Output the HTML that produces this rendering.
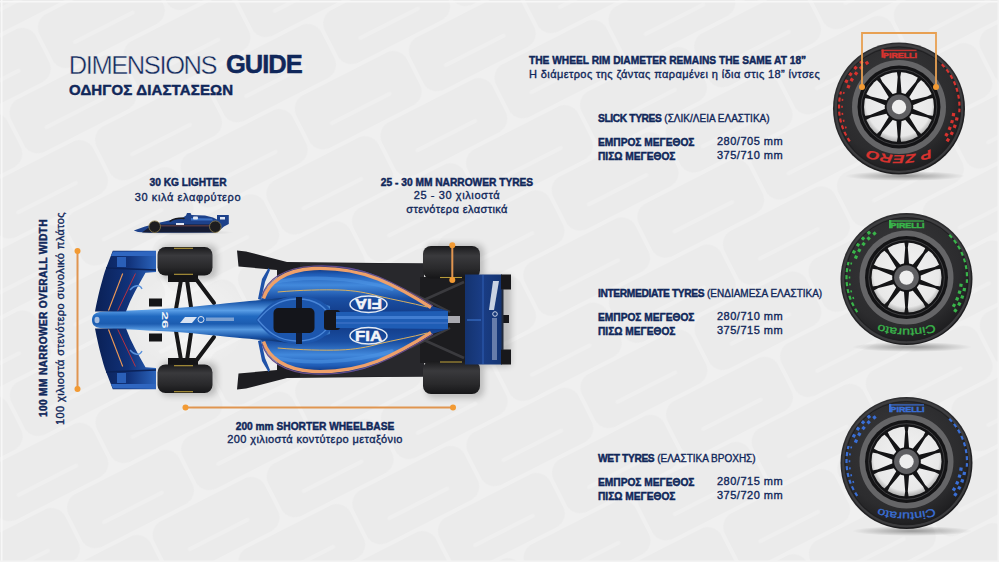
<!DOCTYPE html>
<html><head><meta charset="utf-8">
<style>
html,body{margin:0;padding:0;}
body{width:999px;height:562px;overflow:hidden;position:relative;background:#eaeaea;font-family:"Liberation Sans",sans-serif;color:#10275a;}
.t{position:absolute;white-space:nowrap;line-height:1;}
.b{font-weight:bold;-webkit-text-stroke:0.45px #10275a;}
.r{-webkit-text-stroke:0.35px #10275a;}
.c{text-align:center;}
#bg{position:absolute;left:0;top:0;}
</style></head><body>
<svg id="bg" width="999" height="562" viewBox="0 0 999 562">
  <defs>
    <pattern id="tiles" width="128" height="126" patternUnits="userSpaceOnUse" patternTransform="translate(30,20) rotate(-27)">
      <rect x="2" y="2" width="124" height="59" rx="15" fill="#ebebeb"/>
      <rect x="-62" y="65" width="124" height="59" rx="15" fill="#ebebeb"/>
      <rect x="66" y="65" width="124" height="59" rx="15" fill="#ebebeb"/>
      <line x1="30" y1="40" x2="95" y2="40" stroke="#efefef" stroke-width="4" stroke-linecap="round"/>
      <line x1="94" y1="103" x2="159" y2="103" stroke="#efefef" stroke-width="4" stroke-linecap="round"/>
      <line x1="-34" y1="103" x2="31" y2="103" stroke="#efefef" stroke-width="4" stroke-linecap="round"/>
    </pattern>
  </defs>
  <rect x="0" y="0" width="999" height="562" fill="#f0f0f0"/>
  <rect x="0" y="0" width="999" height="562" fill="url(#tiles)"/>
  <rect x="0" y="1" width="999" height="1.5" fill="#f7f7f7"/>
  <rect x="1" y="0" width="1.5" height="562" fill="#f7f7f7"/>
  <rect x="997.5" y="0" width="1.5" height="562" fill="#f3f3f3"/>
  <rect x="0" y="560.5" width="999" height="1.5" fill="#f3f3f3"/>
</svg>

<!-- Title -->
<div class="t" id="dim" style="left:68.7px;top:53px;font-size:25.5px;letter-spacing:-1.4px;-webkit-text-stroke:0.45px #ebebeb;">DIMENSIONS</div>
<div class="t b" id="guide" style="left:226px;top:52px;font-size:25.5px;letter-spacing:-1px;">GUIDE</div>
<div class="t b" id="odig" style="left:69px;top:82px;font-size:15px;letter-spacing:0.15px;">ΟΔΗΓΟΣ ΔΙΑΣΤΑΣΕΩΝ</div>

<!-- Rim text -->
<div class="t b" id="rim1" style="left:529px;top:56px;font-size:10.2px;">THE WHEEL RIM DIAMETER REMAINS THE SAME AT 18”</div>
<div class="t r" id="rim2" style="left:529px;top:69px;font-size:11px;letter-spacing:0.4px;">Η διάμετρος της ζάντας παραμένει η ίδια στις 18” ίντσες</div>

<!-- Slick -->
<div class="t r" id="sl1" style="left:598px;top:114px;font-size:10.2px;"><span class="b" style="font-size:10.2px;letter-spacing:-0.35px;">SLICK TYRES</span> <span style="font-size:10px;">(ΣΛΙΚ/ΛΕΙΑ ΕΛΑΣΤΙΚΑ)</span></div>
<div class="t b" id="sl2" style="left:598px;top:138px;font-size:10.2px;">ΕΜΠΡΟΣ ΜΕΓΕΘΟΣ</div>
<div class="t r" id="sl3" style="left:717px;top:136px;font-size:11px;letter-spacing:0.5px;">280/705 mm</div>
<div class="t b" id="sl4" style="left:598px;top:152px;font-size:10.2px;">ΠΙΣΩ ΜΕΓΕΘΟΣ</div>
<div class="t r" id="sl5" style="left:717px;top:150px;font-size:11px;letter-spacing:0.5px;">375/710 mm</div>

<!-- Intermediate -->
<div class="t r" id="in1" style="left:598px;top:289px;font-size:10.2px;"><span class="b" style="font-size:10.2px;letter-spacing:-0.35px;">INTERMEDIATE TYRES</span> <span style="font-size:10px;">(ΕΝΔΙΑΜΕΣΑ ΕΛΑΣΤΙΚΑ)</span></div>
<div class="t b" id="in2" style="left:598px;top:313px;font-size:10.2px;">ΕΜΠΡΟΣ ΜΕΓΕΘΟΣ</div>
<div class="t r" id="in3" style="left:717px;top:311px;font-size:11px;letter-spacing:0.5px;">280/710 mm</div>
<div class="t b" id="in4" style="left:598px;top:327px;font-size:10.2px;">ΠΙΣΩ ΜΕΓΕΘΟΣ</div>
<div class="t r" id="in5" style="left:717px;top:325px;font-size:11px;letter-spacing:0.5px;">375/715 mm</div>

<!-- Wet -->
<div class="t r" id="we1" style="left:598px;top:454px;font-size:10.2px;"><span class="b" style="font-size:10.2px;letter-spacing:-0.35px;">WET TYRES</span> <span style="font-size:10px;">(ΕΛΑΣΤΙΚΑ ΒΡΟΧΗΣ)</span></div>
<div class="t b" id="we2" style="left:598px;top:478px;font-size:10.2px;">ΕΜΠΡΟΣ ΜΕΓΕΘΟΣ</div>
<div class="t r" id="we3" style="left:717px;top:476px;font-size:11px;letter-spacing:0.5px;">280/715 mm</div>
<div class="t b" id="we4" style="left:598px;top:492px;font-size:10.2px;">ΠΙΣΩ ΜΕΓΕΘΟΣ</div>
<div class="t r" id="we5" style="left:717px;top:490px;font-size:11px;letter-spacing:0.5px;">375/720 mm</div>

<!-- Car labels -->
<div class="t b c" id="kg1" style="left:88px;width:200px;top:178px;font-size:10.2px;">30 KG LIGHTER</div>
<div class="t r c" id="kg2" style="left:88px;width:200px;top:191.5px;font-size:11px;letter-spacing:0.6px;">30 κιλά ελαφρύτερο</div>

<div class="t b c" id="nt1" style="left:357px;width:200px;top:178px;font-size:10.2px;">25 - 30 MM NARROWER TYRES</div>
<div class="t r c" id="nt2" style="left:357px;width:200px;top:190px;font-size:11px;letter-spacing:0.6px;">25 - 30 χιλιοστά</div>
<div class="t r c" id="nt3" style="left:357px;width:200px;top:204px;font-size:11px;letter-spacing:0.4px;">στενότερα ελαστικά</div>

<div class="t b c" id="wb1" style="left:215px;width:200px;top:422px;font-size:10.2px;">200 mm SHORTER WHEELBASE</div>
<div class="t r c" id="wb2" style="left:215px;width:200px;top:434px;font-size:11px;letter-spacing:0.4px;">200 χιλιοστά κοντύτερο μεταξόνιο</div>

<!-- vertical labels -->
<div class="t b c" id="vw1" style="left:-106.5px;width:300px;top:313px;font-size:10.2px;letter-spacing:0.33px;transform:rotate(-90deg);">100 MM NARROWER OVERALL WIDTH</div>
<div class="t r c" id="vw2" style="left:-90px;width:300px;top:313px;font-size:11px;letter-spacing:0.4px;transform:rotate(-90deg);">100 χιλιοστά στενότερο συνολικό πλάτος</div>

<!-- CAR -->
<svg id="car" style="position:absolute;left:0;top:0" width="999" height="562" viewBox="0 0 999 562">
  <defs>
    <linearGradient id="podG" x1="0" y1="0" x2="0" y2="1">
      <stop offset="0" stop-color="#0b2462"/>
      <stop offset="0.08" stop-color="#1f5cb6"/>
      <stop offset="0.18" stop-color="#4289dc"/>
      <stop offset="0.3" stop-color="#1a4fa3"/>
      <stop offset="0.5" stop-color="#10357f"/>
      <stop offset="0.7" stop-color="#1a4fa3"/>
      <stop offset="0.82" stop-color="#4289dc"/>
      <stop offset="0.92" stop-color="#1f5cb6"/>
      <stop offset="1" stop-color="#0b2462"/>
    </linearGradient>
    <linearGradient id="noseG" x1="0" y1="0" x2="0" y2="1">
      <stop offset="0" stop-color="#0a2152"/>
      <stop offset="0.12" stop-color="#1a55a8"/>
      <stop offset="0.3" stop-color="#5a9ee6"/>
      <stop offset="0.42" stop-color="#2169c0"/>
      <stop offset="0.58" stop-color="#1c5cb0"/>
      <stop offset="0.7" stop-color="#5598e0"/>
      <stop offset="0.85" stop-color="#1a55a8"/>
      <stop offset="1" stop-color="#0a2152"/>
    </linearGradient>
    <linearGradient id="ftyre" x1="0" y1="0" x2="0" y2="1">
      <stop offset="0" stop-color="#1a1a1c"/>
      <stop offset="0.3" stop-color="#3a3a3d"/>
      <stop offset="0.7" stop-color="#29292b"/>
      <stop offset="1" stop-color="#161618"/>
    </linearGradient>
    <linearGradient id="rwing" x1="0" y1="0" x2="1" y2="0">
      <stop offset="0" stop-color="#14336f"/>
      <stop offset="0.45" stop-color="#1a3d85"/>
      <stop offset="1" stop-color="#143472"/>
    </linearGradient>
    <linearGradient id="wingG" x1="0" y1="0" x2="1" y2="0">
      <stop offset="0" stop-color="#0a2055"/>
      <stop offset="0.55" stop-color="#11327a"/>
      <stop offset="1" stop-color="#2a63bb"/>
    </linearGradient>
    <radialGradient id="carShadow" cx="0.5" cy="0.5" r="0.5">
      <stop offset="0" stop-color="#000" stop-opacity="0.18"/>
      <stop offset="1" stop-color="#000" stop-opacity="0"/>
    </radialGradient>
    <radialGradient id="underG" cx="0.5" cy="0.5" r="0.5">
      <stop offset="0" stop-color="#fff" stop-opacity="0.5"/>
      <stop offset="1" stop-color="#fff" stop-opacity="0"/>
    </radialGradient>
  </defs>

  <filter id="blur3" x="-20%" y="-20%" width="140%" height="140%"><feGaussianBlur stdDeviation="3"/></filter>
  <g filter="url(#blur3)" opacity="0.2" fill="#000">
    <rect x="468" y="276" width="43" height="90"/>
    <rect x="426" y="244" width="58" height="38" rx="8"/>
    <rect x="426" y="358" width="58" height="40" rx="8"/>
    <rect x="160" y="245" width="57" height="34" rx="8"/>
    <rect x="160" y="362" width="57" height="34" rx="8"/>
  </g>
  <!-- light area under front -->
  <ellipse cx="190" cy="320" rx="60" ry="50" fill="url(#underG)"/>

  <!-- floor / dark underbody -->
  <path d="M237,250.5 L246,251.5 L287,262 L424,263.5 L424,376.5 L287,378 L246,388.5 L237,389.5 L238.5,373.5 L277,370 L277,270 L238.5,266.5 Z" fill="#1d1d21"/>
  <path d="M300,263 L424,263.5 L424,376.5 L300,377 Z" fill="#28282c"/>
  <!-- rear suspension zone -->
  <rect x="420" y="277" width="46" height="86" fill="#1c1c1f"/>
  <g stroke="#3a3a3e" stroke-width="2.5">
    <line x1="424" y1="300" x2="464" y2="282"/>
    <line x1="424" y1="340" x2="464" y2="358"/>
    <line x1="410" y1="292" x2="450" y2="312"/>
    <line x1="410" y1="348" x2="450" y2="328"/>
  </g>

  <!-- front suspension -->
  <rect x="168" y="275" width="30" height="7" fill="#141416"/>
  <rect x="168" y="358" width="30" height="7" fill="#141416"/>
  <g stroke="#161618" stroke-width="4" stroke-linecap="round">
    <line x1="181" y1="280" x2="176" y2="309"/>
    <line x1="187" y1="280" x2="191" y2="307"/>
    <line x1="196" y1="279" x2="214" y2="303"/>
    <line x1="181" y1="360" x2="176" y2="331"/>
    <line x1="187" y1="360" x2="191" y2="333"/>
    <line x1="196" y1="361" x2="214" y2="337"/>
  </g>
  <rect x="149" y="298.5" width="13" height="8" fill="#151517"/>
  <rect x="149" y="333.5" width="13" height="8" fill="#151517"/>

  <!-- front tyres -->
  <rect x="157.5" y="247" width="55" height="28.5" rx="8" fill="url(#ftyre)"/>
  <rect x="157.5" y="364.5" width="55" height="28.5" rx="8" fill="url(#ftyre)"/>
  <g stroke="#b59a3a" stroke-width="1.1">
    <line x1="174" y1="248.3" x2="193" y2="248.3"/>
    <line x1="174" y1="274.3" x2="193" y2="274.3"/>
    <line x1="174" y1="365.7" x2="193" y2="365.7"/>
    <line x1="174" y1="391.7" x2="193" y2="391.7"/>
  </g>
  <!-- rear tyres -->
  <rect x="423" y="246" width="57" height="32.5" rx="8" fill="url(#ftyre)"/>
  <rect x="423" y="361" width="57" height="33" rx="8" fill="url(#ftyre)"/>
  <g stroke="#b59a3a" stroke-width="1.1">
    <line x1="440" y1="277.5" x2="462" y2="277.5"/>
    <line x1="440" y1="362" x2="462" y2="362"/>
  </g>

  <!-- sidepods / engine cover body -->
  <path d="M261,300 C265,284 280,269 312,266 C336,264.5 356,267 377,276 C396,284 414,296 432,306 L448,311 L448,329 L432,334 C414,344 396,356 377,364 C356,373 336,375.5 312,374 C280,371 265,356 261,340 Z" fill="url(#podG)"/>
  <!-- sidepod highlight bands -->
  <path d="M272,283 C300,276 350,276 392,289" fill="none" stroke="#4f95e6" stroke-width="3.5" opacity="0.55" stroke-linecap="round"/>
  <path d="M272,357 C300,364 350,364 392,351" fill="none" stroke="#4f95e6" stroke-width="3.5" opacity="0.55" stroke-linecap="round"/>
  <!-- purple edge + orange stripes -->
  <path d="M262,296 C267,280 283,267.5 314,266 C336,265 356,267.5 378,276.5 C396,284 411,292 433,306" fill="none" stroke="#6a4e8a" stroke-width="1.2"/>
  <path d="M263.5,298.5 C268.5,283 284,270 314,268.5 C335,267.8 355,270 378,279 C395,286 410,294 431,307.5" fill="none" stroke="#eea06a" stroke-width="3.4"/>
  <path d="M263.5,341.5 C268.5,357 284,370 314,371.5 C335,372.2 355,370 378,361 C395,354 410,346 431,332.5" fill="none" stroke="#eea06a" stroke-width="3.4"/>
  <path d="M262,344 C267,360 283,372.5 314,374 C336,375 356,372.5 378,363.5 C396,356 411,348 433,334" fill="none" stroke="#6a4e8a" stroke-width="1.2"/>
  <path d="M277.7,292 C300,290 325,289.5 339.6,290 C355,290.5 368,293 378,296 C395,300 412,303 427,307" fill="none" stroke="#d9b060" stroke-width="1"/>
  <path d="M277.7,348 C300,350 325,350.5 339.6,350 C355,349.5 368,347 378,344 C395,340 412,337 427,333" fill="none" stroke="#d9b060" stroke-width="1"/>

  <!-- nose / chassis -->
  <path d="M92,320 C92,314 96,312 104,311.5 C130,310.5 165,309 190,307 C220,304 245,301.5 262,300 L300,296 L330,306 L330,334 L300,344 L262,340 C245,338.5 220,336 190,333 C165,331 130,329.5 104,328.5 C96,328 92,326 92,320 Z" fill="url(#noseG)"/>
  <ellipse cx="97" cy="320" rx="2.5" ry="3.2" fill="#c9d4ea" opacity="0.8"/>
  <text x="165" y="320" font-family="Liberation Sans" font-weight="bold" font-size="9" fill="#eef2f8" text-anchor="middle" transform="rotate(90 165 320)" dy="3.2" textLength="17" lengthAdjust="spacingAndGlyphs">26</text>
  <path d="M180,323 L185,317 L197,317 L192,323 Z" fill="#eef2f8" opacity="0.9"/>
  <circle cx="201" cy="319.5" r="3" fill="none" stroke="#dfe6f3" stroke-width="1"/>
  <rect x="206" y="317.5" width="28" height="3.5" fill="#c9d3e6" opacity="0.55"/>

  <!-- halo / cockpit -->
  <path d="M256,320 C266,306 276,297 296,296 C316,295.5 330,303 336,320 C330,337 316,344.5 296,344 C276,343 266,334 256,320 Z" fill="#1c56ad"/>
  <path d="M258,320 C268,308 278,299.5 296,299 C314,298.5 326,306 332,320 C326,334 314,341.5 296,341 C278,340.5 268,332 258,320 Z" fill="none" stroke="#4a86d8" stroke-width="1.3"/>
  <rect x="273.5" y="308" width="41" height="25" rx="5" fill="#14151b"/>
  <rect x="296" y="297" width="6" height="11" fill="#101a33"/>
  <rect x="296" y="333" width="6" height="11" fill="#101a33"/>
  <rect x="324" y="310" width="16" height="20" rx="3" fill="#15161c"/>
  <!-- engine cover spine -->
  <path d="M336,312 L448,311 L448,329 L336,328 Z" fill="#1f5db5"/>
  <path d="M336,316 L448,316 L448,319 L336,319 Z" fill="#4a86d8" opacity="0.8"/>
  <path d="M336,322 L448,322 L448,324 L336,324 Z" fill="#3a70c4" opacity="0.7"/>
  <rect x="448" y="316" width="12" height="7" fill="#a9a9b0"/>

  <!-- FIA logos -->
  <g font-family="Liberation Sans" font-weight="bold">
    <ellipse cx="368.5" cy="304.3" rx="18.5" ry="8.3" fill="none" stroke="#e6ebf3" stroke-width="1.5"/>
    <ellipse cx="368.5" cy="335.7" rx="18.5" ry="8.3" fill="none" stroke="#e6ebf3" stroke-width="1.5"/>
    <text x="368.5" y="340.8" font-size="14" text-anchor="middle" fill="#f2f4f8" stroke="#f2f4f8" stroke-width="0.5" textLength="27" lengthAdjust="spacingAndGlyphs">FIA</text>
    <text x="368.5" y="309.4" font-size="14" text-anchor="middle" fill="#f2f4f8" stroke="#f2f4f8" stroke-width="0.5" transform="rotate(180 368.5 304.3)" textLength="27" lengthAdjust="spacingAndGlyphs">FIA</text>
  </g>

  <!-- front wing -->
  <path d="M112.8,250.7 L156,250.7 L156,272 L145.5,272.8 C138,286 131,298 126,311.5 L95,311.5 C98,296 101,284 105,271 Z" fill="url(#wingG)"/>
  <path d="M112.8,389.3 L156,389.3 L156,368 L145.5,367.2 C138,354 131,342 126,328.5 L95,328.5 C98,344 101,356 105,369 Z" fill="url(#wingG)"/>
  <path d="M113,251.5 L156,251.5 L156,256 L111,256 Z" fill="#2f66c0"/>
  <path d="M113,388.5 L156,388.5 L156,384 L111,384 Z" fill="#2f66c0"/>
  <rect x="117" y="257" width="9" height="10" fill="#2a5fb8"/>
  <rect x="117" y="373" width="9" height="10" fill="#2a5fb8"/>
  <path d="M106,268 L156,270" stroke="#0b2258" stroke-width="1.5"/>
  <path d="M106,372 L156,370" stroke="#0b2258" stroke-width="1.5"/>
  <path d="M122.7,273.5 L108.5,310.5" stroke="#f19a55" stroke-width="1.1"/>
  <path d="M122.7,366.5 L108.5,329.5" stroke="#f19a55" stroke-width="1.1"/>
  <path d="M135.5,273.5 L117.8,310.5" stroke="#c8303a" stroke-width="0.9"/>
  <path d="M135.5,366.5 L117.8,329.5" stroke="#c8303a" stroke-width="0.9"/>
  <path d="M130,290 C134,285 140,284 142,289" fill="none" stroke="#5a92dc" stroke-width="1.3"/>
  <path d="M130,350 C134,355 140,356 142,351" fill="none" stroke="#5a92dc" stroke-width="1.3"/>

  <!-- mirrors -->
  <path d="M258,299 L262,279 L268.5,268 L270,270 L265,282 L261,300 Z" fill="#1f52a8"/>
  <path d="M258,341 L262,361 L268.5,372 L270,370 L265,358 L261,340 Z" fill="#1f52a8"/>

  <!-- rear wing -->
  <rect x="465" y="274.5" width="37" height="90" fill="url(#rwing)"/>
  <rect x="501" y="274.5" width="10" height="15" fill="#18181b"/>
  <rect x="501" y="349.5" width="10" height="15" fill="#18181b"/>
  <rect x="502" y="315" width="7" height="8" fill="#18181b"/>
  <rect x="501.5" y="289" width="2" height="61" fill="#222a3a"/>
  <line x1="483" y1="275" x2="483" y2="364" stroke="#2e5fb5" stroke-width="1"/>
  <line x1="467" y1="320" x2="481" y2="320" stroke="#3a70c8" stroke-width="1.2"/>
  <path d="M493,281 L499,281 L494,310 L489,310 Z" fill="#e8edf5" opacity="0.85"/>
  <circle cx="495" cy="314" r="2.3" fill="none" stroke="#dfe6f3" stroke-width="0.9"/>
  <rect x="492" y="318" width="5" height="42" fill="#c9d3e6" opacity="0.45"/>

  <!-- small side-view car -->
  <g>
    <ellipse cx="182" cy="232.5" rx="52" ry="2.8" fill="url(#carShadow)"/>
    <path d="M133.8,230.5 L145,226.5 L160,222.5 L169,220.5 L176,218.5 L183,217.5 L186,215.5 L187,213 L190.5,213 L191.5,215 L205,215.5 L213,217.5 L217,219.5 L217,215 L228.8,215 L228.8,224 L224,226.5 L220,230 L215,232.5 L150,232.8 L138,232 Z" fill="#1d418a"/>
    <path d="M142,232.5 L215,232.5 L220,228 L213,224.5 L160,224.5 L148,228 Z" fill="#161c33"/>
    <path d="M160,225 L212,225 L212,226.5 L160,226.5 Z" fill="#7a4a4a" opacity="0.6"/>
    <path d="M169,221.5 C172,218 180,216.8 185,218 L184,219.3 C179,218.6 173,219.6 170.5,222 Z" fill="#1a1a20"/>
    <path d="M191,218 L212,218.5 L213,220.5 L191,220.5 Z" fill="#3a70c4"/>
    <rect x="193" y="216.5" width="5" height="3" rx="1" fill="#dfe6f3"/>
    <rect x="176" y="223" width="8" height="2" fill="#dfe6f3"/>
    <rect x="220" y="217" width="5" height="2.5" fill="#dfe6f3"/>
    <circle cx="154.7" cy="226.7" r="5.8" fill="#1d1d1f" stroke="#8d7d4a" stroke-width="0.8"/>
    <circle cx="215.3" cy="226.7" r="5.8" fill="#1d1d1f" stroke="#8d7d4a" stroke-width="0.8"/>
  </g>
</svg>


<!-- orange lines -->
<svg style="position:absolute;left:0;top:0" width="999" height="562">
  <g stroke="#e09550" stroke-width="2">
    <line x1="185.5" y1="407.5" x2="453" y2="407.5"/>
    <line x1="77.5" y1="251" x2="77.5" y2="389"/>
    <line x1="452.3" y1="245.3" x2="452.3" y2="280"/>
  </g>
  <g fill="#f29a33">
    <circle cx="185.5" cy="407.5" r="3"/>
    <circle cx="453" cy="407.5" r="3"/>
    <circle cx="77.5" cy="251" r="3"/>
    <circle cx="77.5" cy="389" r="3"/>
    <circle cx="452.3" cy="245.3" r="3"/>
    <circle cx="452.3" cy="280" r="3"/>
  </g>
</svg>

<!-- TYRES -->
<svg style="position:absolute;left:0;top:0" width="999" height="562" viewBox="0 0 999 562">
  <defs>
    <radialGradient id="tyreG" cx="0.45" cy="0.4" r="0.6">
      <stop offset="0" stop-color="#3a3a3c"/>
      <stop offset="0.75" stop-color="#2c2c2e"/>
      <stop offset="1" stop-color="#1c1c1e"/>
    </radialGradient>
    <radialGradient id="rimIn" cx="0.5" cy="0.45" r="0.55">
      <stop offset="0" stop-color="#f3f3f3"/>
      <stop offset="0.85" stop-color="#e8e8e8"/>
      <stop offset="1" stop-color="#a9a9a9"/>
    </radialGradient>
    <radialGradient id="shadowG" cx="0.5" cy="0.5" r="0.5">
      <stop offset="0" stop-color="#000" stop-opacity="0.35"/>
      <stop offset="1" stop-color="#000" stop-opacity="0"/>
    </radialGradient>
    <g id="wheel">
      <circle cx="0" cy="1.5" r="66" fill="url(#tyreG)"/>
      <circle cx="0" cy="1.5" r="63.3" fill="none" stroke="#434346" stroke-width="2.2" opacity="0.8"/>
      <circle cx="0" cy="1.5" r="61.5" fill="none" stroke="#1f1f21" stroke-width="1"/>
      <circle cx="0" cy="0" r="47" fill="#656567"/>
      <circle cx="0" cy="0" r="41.5" fill="#141416"/>
      <circle cx="0" cy="0" r="37.8" fill="none" stroke="#444446" stroke-width="0.9"/>
      <circle cx="0" cy="0" r="35" fill="url(#rimIn)"/>
      <g fill="#141416">
        <polygon points="2.60,-13.00 1.30,-30.00 2.20,-35.50 -2.20,-35.50 -1.30,-30.00 -2.60,-13.00"/>
        <polygon points="9.74,-8.99 18.69,-23.51 22.65,-27.43 19.09,-30.01 16.58,-25.03 5.54,-12.05"/>
        <polygon points="13.17,-1.54 28.93,-8.03 34.44,-8.88 33.08,-13.06 28.13,-10.51 11.56,-6.49"/>
        <polygon points="11.56,6.49 28.13,10.51 33.08,13.06 34.44,8.88 28.93,8.03 13.17,1.54"/>
        <polygon points="5.54,12.05 16.58,25.03 19.09,30.01 22.65,27.43 18.69,23.51 9.74,8.99"/>
        <polygon points="-2.60,13.00 -1.30,30.00 -2.20,35.50 2.20,35.50 1.30,30.00 2.60,13.00"/>
        <polygon points="-9.74,8.99 -18.69,23.51 -22.65,27.43 -19.09,30.01 -16.58,25.03 -5.54,12.05"/>
        <polygon points="-13.17,1.54 -28.93,8.03 -34.44,8.88 -33.08,13.06 -28.13,10.51 -11.56,6.49"/>
        <polygon points="-11.56,-6.49 -28.13,-10.51 -33.08,-13.06 -34.44,-8.88 -28.93,-8.03 -13.17,-1.54"/>
        <polygon points="-5.54,-12.05 -16.58,-25.03 -19.09,-30.01 -22.65,-27.43 -18.69,-23.51 -9.74,-8.99"/>
      </g>
      <circle cx="0" cy="0" r="14.3" fill="#141416"/>
      <circle cx="0" cy="0" r="12.4" fill="#5f5f62"/>
      <circle cx="0" cy="0" r="7.2" fill="#eeeeee"/>
    </g>
  </defs>
  <ellipse cx="905" cy="176" rx="60" ry="5" fill="url(#shadowG)"/>
  <ellipse cx="912" cy="347" rx="60" ry="5" fill="url(#shadowG)"/>
  <ellipse cx="912" cy="531" rx="60" ry="5" fill="url(#shadowG)"/>
<g transform="translate(899,107)">
<use href="#wheel"/>
<text x="1" y="-49.3" text-anchor="middle" font-family="Liberation Sans" font-weight="bold" font-size="7.8" fill="#d8332f" stroke="#d8332f" stroke-width="0.5" textLength="34" lengthAdjust="spacingAndGlyphs">PIRELLI</text>
<rect x="-17.5" y="-57.3" width="35" height="1.4" fill="#d8332f" opacity="0.85"/>
<rect x="-17.5" y="-57.6" width="2.3" height="8.3" fill="#d8332f"/>
<path id="bps" d="M40,39 Q0,57 -40,39" fill="none"/>
<text font-family="Liberation Sans" font-weight="bold" font-style="italic" font-size="12" stroke-width="0.2" fill="#d8332f" stroke="#d8332f"><textPath href="#bps" startOffset="50%" text-anchor="middle" textLength="64" lengthAdjust="spacingAndGlyphs">P ZERO</textPath></text>
<rect x="-52.13" y="-22.02" width="3.2" height="3.2" transform="rotate(-68.0 -50.53 -20.42)" fill="#d8332f"/>
<rect x="-54.18" y="-27.24" width="3.2" height="3.2" transform="rotate(-64.0 -52.58 -25.64)" fill="#d8332f"/>
<rect x="-48.80" y="-28.85" width="3.2" height="3.2" transform="rotate(-60.0 -47.20 -27.25)" fill="#d8332f"/>
<rect x="-50.10" y="-34.31" width="3.2" height="3.2" transform="rotate(-56.0 -48.50 -32.71)" fill="#d8332f"/>
<rect x="-44.55" y="-35.15" width="3.2" height="3.2" transform="rotate(-52.0 -42.95 -33.55)" fill="#d8332f"/>
<rect x="-45.07" y="-40.74" width="3.2" height="3.2" transform="rotate(-48.0 -43.47 -39.14)" fill="#d8332f"/>
<rect x="-39.46" y="-40.80" width="3.2" height="3.2" transform="rotate(-44.0 -37.86 -39.20)" fill="#d8332f"/>
<rect x="-39.20" y="-46.41" width="3.2" height="3.2" transform="rotate(-40.0 -37.60 -44.81)" fill="#d8332f"/>
<rect x="-33.63" y="-45.69" width="3.2" height="3.2" transform="rotate(-36.0 -32.03 -44.09)" fill="#d8332f"/>
<path d="M-49.15,34.41 A60,60 0 0 1 -57.96,-15.53" fill="none" stroke="#d8332f" stroke-width="2.2" stroke-dasharray="4 3"/>
<path d="M-52.85,21.35 A57,57 0 0 1 -53.56,-19.50" fill="none" stroke="#d8332f" stroke-width="1.6" stroke-dasharray="2 5"/>
<path d="M42.78,-42.78 A60.5,60.5 0 0 1 60.27,5.27" fill="none" stroke="#d8332f" stroke-width="2.2" stroke-dasharray="4 3"/>
<rect x="52.86" y="6.05" width="3.2" height="3.2" transform="rotate(98.0 54.46 7.65)" fill="#d8332f"/>
<rect x="56.17" y="10.38" width="3.2" height="3.2" transform="rotate(101.7 57.77 11.98)" fill="#d8332f"/>
<rect x="51.42" y="13.03" width="3.2" height="3.2" transform="rotate(105.4 53.02 14.63)" fill="#d8332f"/>
<rect x="54.14" y="17.75" width="3.2" height="3.2" transform="rotate(109.1 55.74 19.35)" fill="#d8332f"/>
<rect x="49.08" y="19.76" width="3.2" height="3.2" transform="rotate(112.9 50.68 21.36)" fill="#d8332f"/>
<rect x="51.17" y="24.79" width="3.2" height="3.2" transform="rotate(116.6 52.77 26.39)" fill="#d8332f"/>
<rect x="45.89" y="26.14" width="3.2" height="3.2" transform="rotate(120.3 47.49 27.74)" fill="#d8332f"/>
<rect x="47.31" y="31.39" width="3.2" height="3.2" transform="rotate(124.0 48.91 32.99)" fill="#d8332f"/>
</g>
<g transform="translate(906.5,277.6)">
<use href="#wheel"/>
<text x="1" y="-49.3" text-anchor="middle" font-family="Liberation Sans" font-weight="bold" font-size="7.8" fill="#39b54a" stroke="#39b54a" stroke-width="0.5" textLength="34" lengthAdjust="spacingAndGlyphs">PIRELLI</text>
<rect x="-17.5" y="-57.3" width="35" height="1.4" fill="#39b54a" opacity="0.85"/>
<rect x="-17.5" y="-57.6" width="2.3" height="8.3" fill="#39b54a"/>
<path id="bpi" d="M40,42 Q0,60 -40,42" fill="none"/>
<text font-family="Liberation Sans" font-size="11" stroke-width="0.3" fill="#39b54a" stroke="#39b54a"><textPath href="#bpi" startOffset="50%" text-anchor="middle" textLength="57" lengthAdjust="spacingAndGlyphs">Cinturato</textPath></text>
<rect x="-52.13" y="-22.02" width="3.2" height="3.2" transform="rotate(-68.0 -50.53 -20.42)" fill="#39b54a"/>
<rect x="-54.18" y="-27.24" width="3.2" height="3.2" transform="rotate(-64.0 -52.58 -25.64)" fill="#39b54a"/>
<rect x="-48.80" y="-28.85" width="3.2" height="3.2" transform="rotate(-60.0 -47.20 -27.25)" fill="#39b54a"/>
<rect x="-50.10" y="-34.31" width="3.2" height="3.2" transform="rotate(-56.0 -48.50 -32.71)" fill="#39b54a"/>
<rect x="-44.55" y="-35.15" width="3.2" height="3.2" transform="rotate(-52.0 -42.95 -33.55)" fill="#39b54a"/>
<rect x="-45.07" y="-40.74" width="3.2" height="3.2" transform="rotate(-48.0 -43.47 -39.14)" fill="#39b54a"/>
<rect x="-39.46" y="-40.80" width="3.2" height="3.2" transform="rotate(-44.0 -37.86 -39.20)" fill="#39b54a"/>
<rect x="-39.20" y="-46.41" width="3.2" height="3.2" transform="rotate(-40.0 -37.60 -44.81)" fill="#39b54a"/>
<rect x="-33.63" y="-45.69" width="3.2" height="3.2" transform="rotate(-36.0 -32.03 -44.09)" fill="#39b54a"/>
<path d="M-49.15,34.41 A60,60 0 0 1 -57.96,-15.53" fill="none" stroke="#39b54a" stroke-width="2.2" stroke-dasharray="4 3"/>
<path d="M-52.85,21.35 A57,57 0 0 1 -53.56,-19.50" fill="none" stroke="#39b54a" stroke-width="1.6" stroke-dasharray="2 5"/>
<path d="M42.78,-42.78 A60.5,60.5 0 0 1 60.27,5.27" fill="none" stroke="#39b54a" stroke-width="2.2" stroke-dasharray="4 3"/>
<rect x="52.86" y="6.05" width="3.2" height="3.2" transform="rotate(98.0 54.46 7.65)" fill="#39b54a"/>
<rect x="56.17" y="10.38" width="3.2" height="3.2" transform="rotate(101.7 57.77 11.98)" fill="#39b54a"/>
<rect x="51.42" y="13.03" width="3.2" height="3.2" transform="rotate(105.4 53.02 14.63)" fill="#39b54a"/>
<rect x="54.14" y="17.75" width="3.2" height="3.2" transform="rotate(109.1 55.74 19.35)" fill="#39b54a"/>
<rect x="49.08" y="19.76" width="3.2" height="3.2" transform="rotate(112.9 50.68 21.36)" fill="#39b54a"/>
<rect x="51.17" y="24.79" width="3.2" height="3.2" transform="rotate(116.6 52.77 26.39)" fill="#39b54a"/>
<rect x="45.89" y="26.14" width="3.2" height="3.2" transform="rotate(120.3 47.49 27.74)" fill="#39b54a"/>
<rect x="47.31" y="31.39" width="3.2" height="3.2" transform="rotate(124.0 48.91 32.99)" fill="#39b54a"/>
</g>
<g transform="translate(906.5,461.5)">
<use href="#wheel"/>
<text x="1" y="-49.3" text-anchor="middle" font-family="Liberation Sans" font-weight="bold" font-size="7.8" fill="#3a6fd6" stroke="#3a6fd6" stroke-width="0.5" textLength="34" lengthAdjust="spacingAndGlyphs">PIRELLI</text>
<rect x="-17.5" y="-57.3" width="35" height="1.4" fill="#3a6fd6" opacity="0.85"/>
<rect x="-17.5" y="-57.6" width="2.3" height="8.3" fill="#3a6fd6"/>
<path id="bpw" d="M40,42 Q0,60 -40,42" fill="none"/>
<text font-family="Liberation Sans" font-size="11" stroke-width="0.3" fill="#3a6fd6" stroke="#3a6fd6"><textPath href="#bpw" startOffset="50%" text-anchor="middle" textLength="57" lengthAdjust="spacingAndGlyphs">Cinturato</textPath></text>
<rect x="-52.13" y="-22.02" width="3.2" height="3.2" transform="rotate(-68.0 -50.53 -20.42)" fill="#3a6fd6"/>
<rect x="-54.18" y="-27.24" width="3.2" height="3.2" transform="rotate(-64.0 -52.58 -25.64)" fill="#3a6fd6"/>
<rect x="-48.80" y="-28.85" width="3.2" height="3.2" transform="rotate(-60.0 -47.20 -27.25)" fill="#3a6fd6"/>
<rect x="-50.10" y="-34.31" width="3.2" height="3.2" transform="rotate(-56.0 -48.50 -32.71)" fill="#3a6fd6"/>
<rect x="-44.55" y="-35.15" width="3.2" height="3.2" transform="rotate(-52.0 -42.95 -33.55)" fill="#3a6fd6"/>
<rect x="-45.07" y="-40.74" width="3.2" height="3.2" transform="rotate(-48.0 -43.47 -39.14)" fill="#3a6fd6"/>
<rect x="-39.46" y="-40.80" width="3.2" height="3.2" transform="rotate(-44.0 -37.86 -39.20)" fill="#3a6fd6"/>
<rect x="-39.20" y="-46.41" width="3.2" height="3.2" transform="rotate(-40.0 -37.60 -44.81)" fill="#3a6fd6"/>
<rect x="-33.63" y="-45.69" width="3.2" height="3.2" transform="rotate(-36.0 -32.03 -44.09)" fill="#3a6fd6"/>
<path d="M-49.15,34.41 A60,60 0 0 1 -57.96,-15.53" fill="none" stroke="#3a6fd6" stroke-width="2.2" stroke-dasharray="4 3"/>
<path d="M-52.85,21.35 A57,57 0 0 1 -53.56,-19.50" fill="none" stroke="#3a6fd6" stroke-width="1.6" stroke-dasharray="2 5"/>
<path d="M42.78,-42.78 A60.5,60.5 0 0 1 60.27,5.27" fill="none" stroke="#3a6fd6" stroke-width="2.2" stroke-dasharray="4 3"/>
<rect x="52.86" y="6.05" width="3.2" height="3.2" transform="rotate(98.0 54.46 7.65)" fill="#3a6fd6"/>
<rect x="56.17" y="10.38" width="3.2" height="3.2" transform="rotate(101.7 57.77 11.98)" fill="#3a6fd6"/>
<rect x="51.42" y="13.03" width="3.2" height="3.2" transform="rotate(105.4 53.02 14.63)" fill="#3a6fd6"/>
<rect x="54.14" y="17.75" width="3.2" height="3.2" transform="rotate(109.1 55.74 19.35)" fill="#3a6fd6"/>
<rect x="49.08" y="19.76" width="3.2" height="3.2" transform="rotate(112.9 50.68 21.36)" fill="#3a6fd6"/>
<rect x="51.17" y="24.79" width="3.2" height="3.2" transform="rotate(116.6 52.77 26.39)" fill="#3a6fd6"/>
<rect x="45.89" y="26.14" width="3.2" height="3.2" transform="rotate(120.3 47.49 27.74)" fill="#3a6fd6"/>
<rect x="47.31" y="31.39" width="3.2" height="3.2" transform="rotate(124.0 48.91 32.99)" fill="#3a6fd6"/>
</g>
  <!-- orange bracket -->
  <g stroke="#e8a052" fill="none" stroke-width="1.8">
    <polyline points="862,87 862,33 936,33 936,87"/>
  </g>
  <circle cx="862" cy="87" r="3" fill="#f29a33"/>
  <circle cx="936" cy="87" r="3" fill="#f29a33"/>
</svg>
</body></html>
